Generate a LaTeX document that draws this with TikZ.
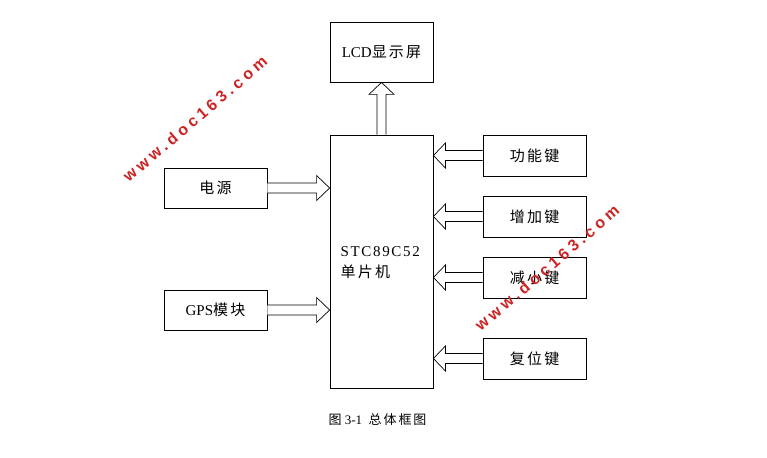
\documentclass[tikz,border=0pt]{standalone}
\usepackage{fontspec}
\setmainfont{Liberation Serif}
\newfontfamily\cjk[LetterSpace=15]{Noto Sans CJK SC}
\newfontfamily\spaced[LetterSpace=11]{Liberation Serif}
\newfontfamily\wmfont[LetterSpace=24]{Liberation Sans}
\usetikzlibrary{calc}
\definecolor{wmred}{RGB}{205,35,35}
\begin{document}
\begin{tikzpicture}[x=1pt,y=-1pt,
  box/.style={draw=black,line width=0.8pt,fill=white,inner sep=0pt,
    font=\fontsize{15}{18}\selectfont},
  smallbox/.style={box,minimum width=103pt,minimum height=40pt},
  keybox/.style={box,minimum width=103pt,minimum height=41pt},
  hollow/.style={draw=black,line width=0.7pt,fill=white,line join=miter},
  wm/.style={text=wmred,font=\wmfont\bfseries\fontsize{16}{16}\selectfont,
    rotate=40.5,inner sep=0pt}]
\useasboundingbox (0,0) rectangle (767,457);

\node[box,minimum width=103pt,minimum height=60pt] (lcd) at (381.5,52) {LCD{\cjk 显示屏}};
\node[box,minimum width=103pt,minimum height=253pt] (main) at (381.5,261.5) {};
\node[anchor=west,inner sep=0pt,align=left,font=\fontsize{15}{21}\selectfont]
  (mtext) at (340.5,263) {{\spaced STC89C52}\\{\cjk 单片机}};

\node[smallbox] (power) at (215.5,188) {{\cjk 电源}};
\node[smallbox] (gps) at (215.5,310) {GPS{\cjk 模块}};

\node[keybox] (k1) at (534.5,155.5) {{\cjk 功能键}};
\node[keybox] (k2) at (534.5,216.5) {{\cjk 增加键}};
\node[keybox] (k3) at (534.5,277.5) {{\cjk 减小键}};
\node[keybox] (k4) at (534.5,358.5) {{\cjk 复位键}};

% up arrow main -> lcd
\draw[hollow] let \p1=(main.north), \p2=(lcd.south) in
  (\x1-4.5pt,\y1) -- (\x1-4.5pt,\y2-12pt) -- (\x1-12.5pt,\y2-12pt) -- (\x2,\y2)
  -- (\x1+12.5pt,\y2-12pt) -- (\x1+4.5pt,\y2-12pt) -- (\x1+4.5pt,\y1);

% right arrows into main
\foreach \src in {power,gps}{
  \draw[hollow] let \p1=(\src.east), \p2=(main.west) in
    (\x1,\y1+5pt) -- (\x2-13pt,\y1+5pt) -- (\x2-13pt,\y1+12.5pt) -- (\x2,\y1)
    -- (\x2-13pt,\y1-12.5pt) -- (\x2-13pt,\y1-5pt) -- (\x1,\y1-5pt);
}

% left arrows from keys into main
\foreach \src in {k1,k2,k3,k4}{
  \draw[hollow] let \p1=(\src.west), \p2=(main.east) in
    (\x1,\y1+5pt) -- (\x2+12pt,\y1+5pt) -- (\x2+12pt,\y1+12.5pt) -- (\x2,\y1)
    -- (\x2+12pt,\y1-12.5pt) -- (\x2+12pt,\y1-5pt) -- (\x1,\y1-5pt);
}

\node[font=\fontsize{13}{15}\selectfont] (cap) at (377.5,420)
  {{\cjk 图}\ 3-1\ \ {\cjk 总体框图}};

% watermarks
\node[wm] (wm1) at (195,119) {www.doc163.com};
\node[wm] (wm2) at (547,268) {www.doc163.com};
\end{tikzpicture}
\end{document}
